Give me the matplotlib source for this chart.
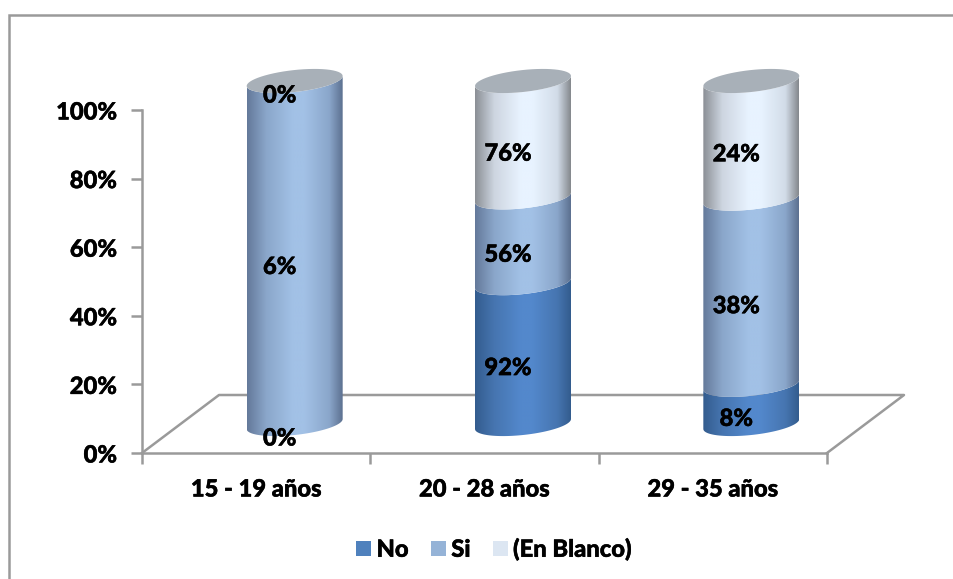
"""
Stacked cylinder chart of answers by age group.
"""

import numpy as np
import matplotlib
matplotlib.use("Agg")
import matplotlib.pyplot as plt
import matplotlib.patheffects as pe
from matplotlib.colors import LinearSegmentedColormap
from matplotlib.patches import Patch, Polygon, Rectangle
from matplotlib.text import Text

categories = ["15 - 19 años", "20 - 28 años", "29 - 35 años"]
series_names = ["No", "Si", "(En Blanco)"]
no_values = [0, 92, 8]
si_values = [6, 56, 38]
blank_values = [0, 76, 24]
y_ticks = [0, 20, 40, 60, 80, 100]

W, H = 954, 579
LEFT, RIGHT, TOP, BOTTOM = 142, 827, 110, 453
GREY = "#9a9a9a"

# shading across a cylinder, dark edges and a bright band right of centre
shades = [
    ["#335c8e", "#4675b0", "#5388cc", "#5388cc", "#4675b0", "#335c8e"],
    ["#64799a", "#8aa6ca", "#a2c1e6", "#a2c1e6", "#8aa6ca", "#5c7090"],
    ["#8b8f95", "#cdd5e0", "#e8f3ff", "#e8f3ff", "#d2dce8", "#84888d"],
]
shade_stops = [0, .2, .48, .6, .86, 1]
legend_colors = ["#4f81bd", "#95b3d7", "#dce6f2"]
cap_color = "#a8b0b8"

plt.rcParams["font.family"] = ["Lato", "DejaVu Sans"]
plt.rcParams["font.weight"] = "black"
plt.rcParams["font.size"] = 17.1

fig = plt.figure(figsize=(W / 100, H / 100), dpi=100)
ax = fig.add_axes([LEFT / W, 1 - BOTTOM / H, (RIGHT - LEFT) / W, (BOTTOM - TOP) / H])
ax.set_xlim(0, len(categories))
ax.set_ylim(0, 100)

# outer frame, open at the bottom and right of the canvas
fig.add_artist(Rectangle((9.5 / W, -0.1), 1.0, 1.1 - 15.5 / H, transform=fig.transFigure,
                         fill=False, ec=GREY, lw=1.8))

unit_x = (RIGHT - LEFT) / len(categories)
unit_y = (BOTTOM - TOP) / 100
depth_x = 38.5 / unit_x
depth_y = 29 / unit_y
radius = 48 / unit_x
minor = 11 / unit_y
tilt = 5 / unit_y


def arc(cx, level, start, stop):
    t = np.linspace(start, stop, 60)
    return np.column_stack([cx + radius * np.cos(t),
                            level + tilt * np.cos(t) + minor * np.sin(t)])


def shaded(cx, lo, hi, stops, verts):
    cmap = LinearSegmentedColormap.from_list("shade", list(zip(shade_stops, stops)))
    im = ax.imshow(np.linspace(0, 1, 256)[None, :], cmap=cmap, aspect="auto", zorder=3,
                   extent=[cx - radius, cx + radius, lo, hi], interpolation="bilinear")
    im.set_clip_path(Polygon(verts, closed=True, transform=ax.transData))
    im.set_clip_box(fig.bbox)


# floor of the chart
ax.plot([0, depth_x * 2, len(categories) + depth_x * 2, len(categories)],
        [0, depth_y * 2, depth_y * 2, 0],
        color=GREY, lw=1.8, clip_on=False, zorder=1)

# cylinders, stacked to 100% of each group's total
values = np.array([no_values, si_values, blank_values], dtype=float)
shares = values / values.sum(axis=0) * 100
for i in range(len(categories)):
    cx = i + 0.5 + depth_x
    base = depth_y
    for s in range(len(series_names)):
        top = base + shares[s, i]
        if shares[s, i] > 0:
            verts = np.vstack([arc(cx, base, np.pi, 2 * np.pi),
                               arc(cx, top, 2 * np.pi, np.pi)])
            shaded(cx, base - 20, top + 20, shades[s], verts)
        # labels sit left of the axis and a little below the segment middle
        ax.annotate(f"{values[s, i]:.0f}%", (cx, base + shares[s, i] / 2),
                    xytext=(-15, -14), textcoords="offset pixels",
                    ha="center", va="center", zorder=6, annotation_clip=False)
        base = top
    ax.add_patch(Polygon(arc(cx, base, 0, 2 * np.pi), closed=True, fc=cap_color,
                         ec="none", zorder=4, clip_on=False))

ax.set_xlim(0, len(categories))
ax.set_ylim(0, 100)

for side in ["top", "right"]:
    ax.spines[side].set_visible(False)
for side in ["left", "bottom"]:
    ax.spines[side].set_color(GREY)
    ax.spines[side].set_linewidth(1.8)
ax.patch.set_alpha(0)
ax.set_yticks(y_ticks)
ax.set_yticklabels([f"{v}%" for v in y_ticks], va="center_baseline")
ax.set_xticks(range(len(categories) + 1))
ax.set_xticklabels([])
ax.tick_params(axis="both", color=GREY, width=1.8, length=8)
ax.tick_params(axis="y", pad=10)
for i, name in enumerate(categories):
    ax.annotate(name, (i + 0.5, 0), xytext=(0, -36), textcoords="offset pixels",
                ha="center", va="center", annotation_clip=False)

handles = [Patch(fc=c, ec="none", label=n) for c, n in zip(legend_colors, series_names)]
fig.legend(handles=handles, loc="center", bbox_to_anchor=(494 / W, 1 - 549 / H), ncol=3,
           frameon=False, handlelength=0.63, handleheight=0.63, handletextpad=0.22,
           columnspacing=0.95)

# thicken the glyphs a touch
for t in fig.findobj(Text):
    t.set_path_effects([pe.withStroke(linewidth=0.35, foreground="black")])

fig.savefig("out.png", dpi=100)
